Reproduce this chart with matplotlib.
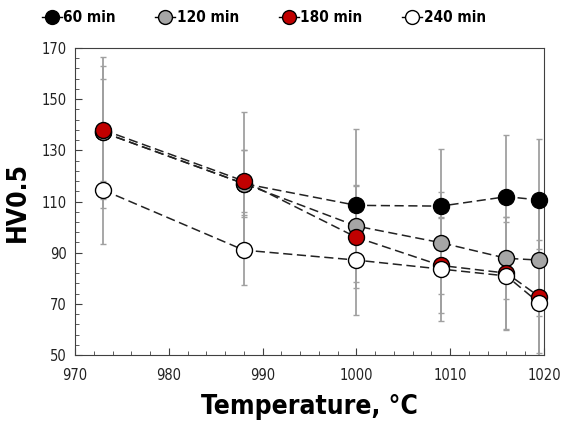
import matplotlib.pyplot as plt
from matplotlib.ticker import MultipleLocator

plt.rcParams['font.family'] = ['DejaVu Sans']
plt.rcParams['font.stretch'] = 'condensed'

temps = [973, 988, 1000, 1009, 1016, 1019.5]

hv_60 = [137, 117, 108.5, 108.2, 111.9, 110.6]
hv_120 = [137, 117, 100.4, 93.9, 87.8, 87.1]
hv_180 = [138, 118, 96, 85, 82, 72.8]
hv_240 = [114.5, 91, 87.1, 83.6, 80.9, 70.3]

err_60 = [29.6, 28, 30, 22.3, 24, 23.8]
err_120 = [26, 13, 16, 20, 16, 22]
err_180 = [20, 12, 20, 18.5, 22, 22]
err_240 = [21, 13.6, 21.5, 20.3, 21, 21]

labels = ['60 min', '120 min', '180 min', '240 min']
faces = ['#000000', '#a6a6a6', '#c00000', '#ffffff']

fig = plt.figure(figsize=(5.61, 4.25), dpi=100)
ax = fig.add_axes([0.1337, 0.1647, 0.836, 0.7223])

series = [hv_60, hv_120, hv_180, hv_240]
errors = [err_60, err_120, err_180, err_240]

for ys, es in zip(series, errors):
    ax.errorbar(temps, ys, yerr=es, fmt='none', ecolor='#a0a0a0',
                elinewidth=1.3, capsize=2.5, capthick=1, zorder=1)

for ys, lab, fc in zip(series, labels, faces):
    ax.plot(temps, ys, color='#222222', linestyle=(0, (6, 3)), lw=1.1,
            marker='o', markersize=11.5, markerfacecolor=fc,
            markeredgecolor='black', markeredgewidth=1.0, label=lab, zorder=3,
            clip_on=False)

ax.set_xlim(970, 1020)
ax.set_ylim(50, 170)
ax.xaxis.set_major_locator(MultipleLocator(10))
ax.xaxis.set_minor_locator(MultipleLocator(2))
ax.yaxis.set_major_locator(MultipleLocator(20, offset=10))
ax.yaxis.set_minor_locator(MultipleLocator(4, offset=2))
ax.tick_params(which='both', direction='in', colors='#404040', labelcolor='#222222',
               labelsize=10.5)
ax.tick_params(which='major', length=5)
ax.tick_params(which='minor', length=3)
ax.tick_params(axis='x', pad=9)
ax.tick_params(axis='y', pad=6)
for s in ax.spines.values():
    s.set_color('#404040')

ax.set_xlabel('Temperature, °C', fontsize=19, fontweight='bold', labelpad=8)
ax.set_ylabel('HV0.5', fontsize=19, fontweight='bold', labelpad=8)

leg_handles = []
for lab, fc in zip(labels, faces):
    h, = ax.plot([], [], color='black', lw=1.0, marker='o', markersize=10,
                 markerfacecolor=fc, markeredgecolor='black', markeredgewidth=1.0)
    leg_handles.append(h)
fig.legend(leg_handles, labels, loc='center', bbox_to_anchor=(0.47, 0.958), ncol=4,
           frameon=False, handlelength=1.3, handletextpad=0.1, columnspacing=2.6,
           prop={'size': 11, 'weight': 'bold'})

plt.savefig('out.png', dpi=100)
